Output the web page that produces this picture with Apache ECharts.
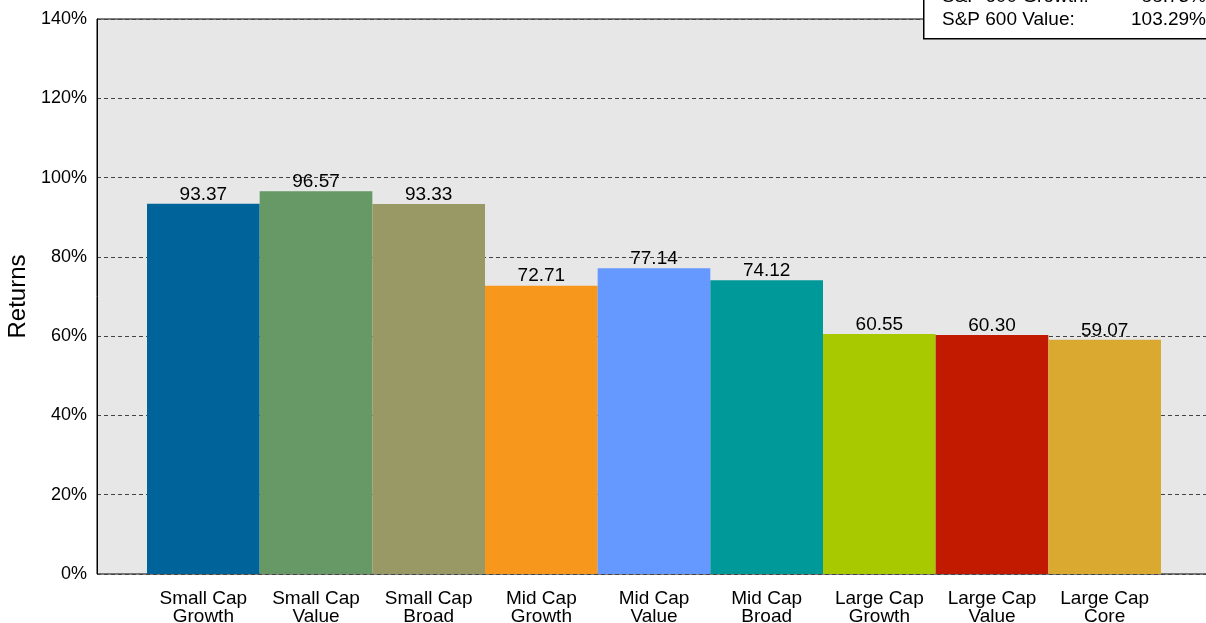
<!DOCTYPE html>
<html>
<head>
<meta charset="utf-8">
<script src="https://cdn.jsdelivr.net/npm/echarts@6/dist/echarts.min.js"></script>
<style>html,body{margin:0;padding:0;background:#fff;}#c{width:1206px;height:623px;}</style>
</head>
<body>
<div id="c"></div>
<script>
const categories = ['Small Cap\nGrowth','Small Cap\nValue','Small Cap\nBroad','Mid Cap\nGrowth','Mid Cap\nValue','Mid Cap\nBroad','Large Cap\nGrowth','Large Cap\nValue','Large Cap\nCore'];
const returns = [93.37, 96.57, 93.33, 72.71, 77.14, 74.12, 60.55, 60.30, 59.07];
const barColors = ['#00649A','#669966','#999966','#F7981D','#6699FF','#009999','#A8C800','#C11A00','#DAA930'];
const yTicks = [0, 20, 40, 60, 80, 100, 120, 140];
const boxLabels = ['S&P 600 Growth:', 'S&P 600 Value:'];
const boxValues = ['88.73%', '103.29%'];

const chart = echarts.init(document.getElementById('c'));
const font = 'Liberation Sans, Arial, sans-serif';
chart.setOption({
  animation: false,
  grid: [
    {left: 97, right: -20, top: 19, bottom: 49, show: true, backgroundColor: '#E7E7E7', borderColor: '#000', borderWidth: 1, containLabel: false, outerBoundsMode: 'none'},
    {left: 147, right: 45, top: 19, bottom: 49, containLabel: false, outerBoundsMode: 'none'}
  ],
  xAxis: [
    {gridIndex: 0, type: 'category', data: [''], show: false},
    {gridIndex: 1, type: 'category', data: categories, axisLine: {show: false}, axisTick: {show: false},
     axisLabel: {interval: 0, color: '#000', fontSize: 19, fontFamily: font, lineHeight: 18, margin: 16, hideOverlap: false}}
  ],
  yAxis: [
    {gridIndex: 0, type: 'value', min: 0, max: 140, interval: 20,
     name: 'Returns', nameLocation: 'middle', nameGap: 58, nameRotate: 90,
     nameTextStyle: {color: '#000', fontSize: 24, fontFamily: font},
     axisLine: {show: true, lineStyle: {color: '#000'}}, axisTick: {show: false},
     axisLabel: {color: '#000', fontSize: 18, fontFamily: font, margin: 10, formatter: v => yTicks.includes(v) ? v + '%' : ''},
     splitLine: {show: true, lineStyle: {color: '#444', type: [4, 3], width: 1}}},
    {gridIndex: 1, type: 'value', min: 0, max: 140, interval: 20, show: false, splitLine: {show: false}}
  ],
  series: [{
    type: 'bar', xAxisIndex: 1, yAxisIndex: 1, barWidth: '100%', barCategoryGap: 0,
    data: returns.map((v, i) => ({value: v, itemStyle: {color: barColors[i]}})),
    label: {show: true, position: 'top', distance: 0, color: '#000', fontSize: 19, fontFamily: font, formatter: p => p.value.toFixed(2)},
    z: 3
  }],
  graphic: [
    {type: 'rect', left: 923, top: -40, shape: {width: 300, height: 78}, style: {fill: '#fff', stroke: '#000', lineWidth: 1.5}, z: 10},
    {type: 'text', left: 942, top: -13, style: {text: boxLabels[0], fill: '#000', font: '19px ' + font}, z: 11},
    {type: 'text', left: 942, top: 10, style: {text: boxLabels[1], fill: '#000', font: '19px ' + font}, z: 11},
    {type: 'text', right: 0, top: -13, style: {text: boxValues[0], fill: '#000', font: '19px ' + font}, z: 11},
    {type: 'text', right: 0, top: 10, style: {text: boxValues[1], fill: '#000', font: '19px ' + font}, z: 11}
  ]
});
</script>
</body>
</html>
